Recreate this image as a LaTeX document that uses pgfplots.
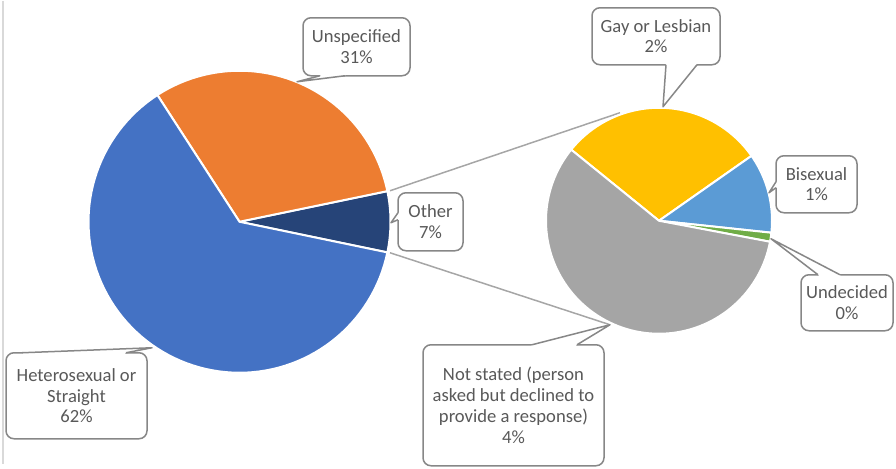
\documentclass[border=0pt]{standalone}
\usepackage{pgfplots}
\pgfplotsset{compat=1.18}
\usepackage{fontspec}
\setmainfont{Carlito}

\definecolor{cBlue}{HTML}{4472C4}
\definecolor{cOrange}{HTML}{ED7D31}
\definecolor{cNavy}{HTML}{264478}
\definecolor{cGray}{HTML}{A5A5A5}
\definecolor{cYellow}{HTML}{FFC000}
\definecolor{cLight}{HTML}{5B9BD5}
\definecolor{cGreen}{HTML}{70AD47}
\definecolor{txt}{HTML}{595959}
\definecolor{boxc}{HTML}{878787}
\definecolor{linec}{HTML}{A6A6A6}

% shares (percent of all responses)
\def\vHet{62.6}\def\vUns{30.9}\def\vOth{6.5}
% break-down of "Other"
\def\vGay{2.06}\def\vBi{0.80}\def\vUnd{0.09}\def\vNot{4.05}

% slice angles, main pie: "Other" centred at 3 o'clock
\pgfmathsetmacro\aA{\vOth*1.8}
\pgfmathsetmacro\aB{\aA+\vUns*3.6}
\pgfmathsetmacro\aC{360-\aA}
% second pie, clockwise from 141 deg
\pgfmathsetmacro\rS{\vGay+\vBi+\vUnd+\vNot}
\def\bA{141}
\pgfmathsetmacro\bB{\bA-\vGay/\rS*360}
\pgfmathsetmacro\bC{\bB-\vBi/\rS*360}
\pgfmathsetmacro\bD{\bC-\vUnd/\rS*360}
\pgfmathsetmacro\bE{\bA-360}

% cx cy r a0 a1 colour
\newcommand{\wedgeplot}[6]{%
  \addplot[draw=white, line width=1pt, fill=#6, domain=#4:#5, samples=90, variable=\t]
    ({#1+#3*cos(\t)}, {#2-#3*sin(\t)}) -- (axis cs:#1,#2) -- cycle;
}
% x0 y0 x1 y1 base1 base2 tip text
\newcommand{\callout}[8]{%
  \draw[boxc, fill=white, line width=0.75pt, rounded corners=4pt] (axis cs:#1,#2) rectangle (axis cs:#3,#4);
  \fill[white] (axis cs:#5) -- (axis cs:#7) -- (axis cs:#6) -- (axis cs:{(#1+#3)/2},{(#2+#4)/2}) -- cycle;
  \draw[boxc, line width=0.75pt, line join=round] (axis cs:#5) -- (axis cs:#7) -- (axis cs:#6);
  \node[align=center, text=txt, inner sep=0pt, font=\fontsize{9.3}{10.35}\selectfont]
    at (axis cs:{(#1+#3)/2},{(#2+#4)/2}) {#8};
}

\begin{document}
\begin{tikzpicture}
\begin{axis}[
    width=448pt, height=234pt, scale only axis,
    xmin=0, xmax=896, ymin=0, ymax=468,
    y dir=reverse,
    hide axis, clip=false,
]
\path (axis cs:0,0) rectangle (axis cs:896,468);
\draw[gray!30, line width=0.75pt] (axis cs:3,0) -- (axis cs:3,463);

% connector lines
\addplot[linec, line width=0.75pt] coordinates {(390,190) (620,112)};
\addplot[linec, line width=0.75pt] coordinates {(390,252) (610,324)};

% main pie
\wedgeplot{239.5}{221}{151}{-\aA}{\aA}{cNavy}
\wedgeplot{239.5}{221}{151}{\aA}{\aB}{cOrange}
\wedgeplot{239.5}{221}{151}{\aB}{\aC}{cBlue}

% second pie
\wedgeplot{659}{220}{113}{\bB}{\bA}{cYellow}
\wedgeplot{659}{220}{113}{\bC}{\bB}{cLight}
\wedgeplot{659}{220}{113}{\bD}{\bC}{cGreen}
\wedgeplot{659}{220}{113}{\bE}{\bD}{cGray}

% callouts
\callout{303}{17}{410}{75}{320,75}{345,75}{297,81}{Unspecified\\31\%}
\callout{398}{192}{463}{250}{398,212}{398,219}{391,222}{Other\\7\%}
\callout{6}{352}{147}{438}{22,352}{126,352}{152,347}{Heterosexual or\\Straight\\62\%}
\callout{592}{7}{720}{64}{666,64}{697,64}{663,106}{Gay or Lesbian\\2\%}
\callout{776}{155}{857}{212}{776,181}{776,187}{769,192}{Bisexual\\1\%}
\callout{801}{274}{893}{330}{818,274}{840,274}{771,238}{Undecided\\0\%}
\callout{423}{344}{604}{465}{532,344}{577,344}{610,324}{Not stated (person\\asked but declined to\\provide a response)\\4\%}
\end{axis}
\end{tikzpicture}
\end{document}
